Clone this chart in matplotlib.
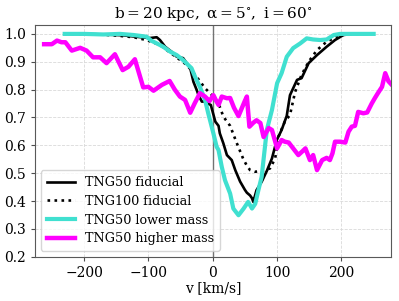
import matplotlib
matplotlib.use("Agg")
import matplotlib.pyplot as plt

plt.rcParams['font.family'] = ['DejaVu Serif']
plt.rcParams['mathtext.fontset'] = 'dejavuserif'

# TNG50 fiducial
v_fid = [-230, -200, -170, -140, -120, -98, -87, -82, -74, -64, -56, -46, -35, -30, -25,
         -22, -17, -12, -9, -3, 4, 9, 11, 16.5, 22, 29.5, 35, 42.5, 50, 53, 58, 61, 63,
         68, 76, 84, 92, 99.5, 107, 115, 120, 131, 138, 149, 162, 177, 190, 203, 216, 240]
y_fid = [1.0, 1.0, 0.998, 0.995, 0.99, 0.985, 0.988, 0.978, 0.954, 0.936, 0.918, 0.913, 0.877,
         0.828, 0.799, 0.78, 0.757, 0.757, 0.751, 0.745, 0.685, 0.67, 0.643, 0.607, 0.565,
         0.547, 0.511, 0.47, 0.44, 0.43, 0.42, 0.41, 0.397, 0.439, 0.469, 0.508, 0.553,
         0.619, 0.655, 0.706, 0.78, 0.835, 0.841, 0.895, 0.924, 0.954, 0.978, 0.996, 1.0, 1.0]

# TNG100 fiducial
v_100 = [-230, -200, -170, -145, -123, -103, -82, -61, -40, -25, -12, 1, 11, 16.5, 27, 37,
         47.6, 53, 58, 66, 79, 89, 97, 102, 112, 120, 128, 138, 149, 162, 177, 193, 208, 235]
y_100 = [1.0, 0.999, 0.997, 0.993, 0.988, 0.978, 0.96, 0.924, 0.888, 0.846, 0.805, 0.775,
         0.738, 0.703, 0.67, 0.61, 0.55, 0.527, 0.511, 0.505, 0.51, 0.517, 0.553, 0.631,
         0.685, 0.709, 0.792, 0.853, 0.9, 0.942, 0.972, 0.99, 1.0, 1.0]

# TNG50 lower mass
v_low = [-230, -200, -170, -144, -123, -103, -95, -87, -77, -66, -56, -46, -38, -33, -27.5,
         -20, -12, -7, 1, 6, 9, 14, 19, 27, 32, 40, 48, 55, 61, 66, 71, 76, 79, 84, 92, 100,
         107, 115, 125, 136, 146, 156, 167, 177, 188, 198, 220, 250]
y_low = [1.0, 1.0, 0.998, 1.0, 0.996, 0.99, 0.975, 0.966, 0.954, 0.936, 0.924, 0.906, 0.888,
         0.877, 0.846, 0.81, 0.763, 0.715, 0.643, 0.595, 0.583, 0.523, 0.475, 0.427, 0.373,
         0.349, 0.373, 0.397, 0.373, 0.39, 0.44, 0.487, 0.55, 0.655, 0.727, 0.823, 0.859,
         0.918, 0.949, 0.966, 0.984, 0.98, 0.978, 0.98, 0.996, 1.0, 1.0, 1.0]

# TNG50 higher mass
v_high = [-262, -250, -242, -235, -229, -219, -206, -196, -186, -175, -165, -152, -140, -131,
          -121, -108, -100, -92, -79, -67, -59, -51, -43, -35, -28, -20, -12, -5, 1, 6, 9,
          14, 22, 27, 33, 40, 46, 50, 53, 57, 63, 68, 74, 79, 87, 92, 100, 107, 112, 118,
          125, 133, 140, 144, 151, 156, 162, 170, 177, 182, 186, 190, 198, 206, 211, 216,
          221, 226, 234, 240, 247, 252, 256, 263, 268, 273, 277]
y_high = [0.963, 0.963, 0.976, 0.97, 0.97, 0.94, 0.95, 0.94, 0.916, 0.916, 0.895, 0.927,
          0.87, 0.882, 0.909, 0.808, 0.81, 0.796, 0.817, 0.831, 0.8, 0.775, 0.763, 0.717,
          0.751, 0.787, 0.775, 0.759, 0.78, 0.757, 0.745, 0.775, 0.769, 0.77, 0.735, 0.705,
          0.738, 0.76, 0.775, 0.667, 0.681, 0.69, 0.68, 0.63, 0.662, 0.655, 0.589, 0.619,
          0.613, 0.61, 0.589, 0.565, 0.58, 0.589, 0.547, 0.565, 0.511, 0.547, 0.555, 0.547,
          0.571, 0.613, 0.613, 0.61, 0.649, 0.667, 0.67, 0.72, 0.715, 0.718, 0.75, 0.77,
          0.785, 0.81, 0.859, 0.83, 0.82]

fig = plt.figure(figsize=(3.99, 3.01), dpi=100)
ax = fig.add_axes([0.088, 0.147, 0.892, 0.77])

ax.grid(True, color='0.85', linestyle='--', linewidth=0.6)
ax.set_axisbelow(True)
ax.axvline(0, color='0.45', linewidth=1.0)

ax.plot(v_fid, y_fid, color='black', lw=1.9, label='TNG50 fiducial')
ax.plot(v_100, y_100, color='black', lw=1.9, linestyle=':', label='TNG100 fiducial')
ax.plot(v_low, y_low, color='turquoise', lw=3.0, label='TNG50 lower mass')
ax.plot(v_high, y_high, color='magenta', lw=3.2, label='TNG50 higher mass')

ax.set_xlim(-276, 277)
ax.set_ylim(0.2, 1.032)
ax.set_xticks([-200, -100, 0, 100, 200])
ax.set_yticks([0.2, 0.3, 0.4, 0.5, 0.6, 0.7, 0.8, 0.9, 1.0])
ax.tick_params(labelsize=10, length=3, color='0.3')
for s in ax.spines.values():
    s.set_color('0.35')

ax.set_xlabel('v [km/s]', fontsize=10, labelpad=1)
ax.set_title(r'$\mathrm{b = 20\ kpc,\ \alpha = 5^{\circ},\ i = 60^{\circ}}$', fontsize=11, pad=5)
ax.legend(loc='lower left', fontsize=9.2, handlelength=2.2, borderpad=0.45,
          labelspacing=0.45, borderaxespad=0.45)

fig.savefig('out.png', dpi=100)
